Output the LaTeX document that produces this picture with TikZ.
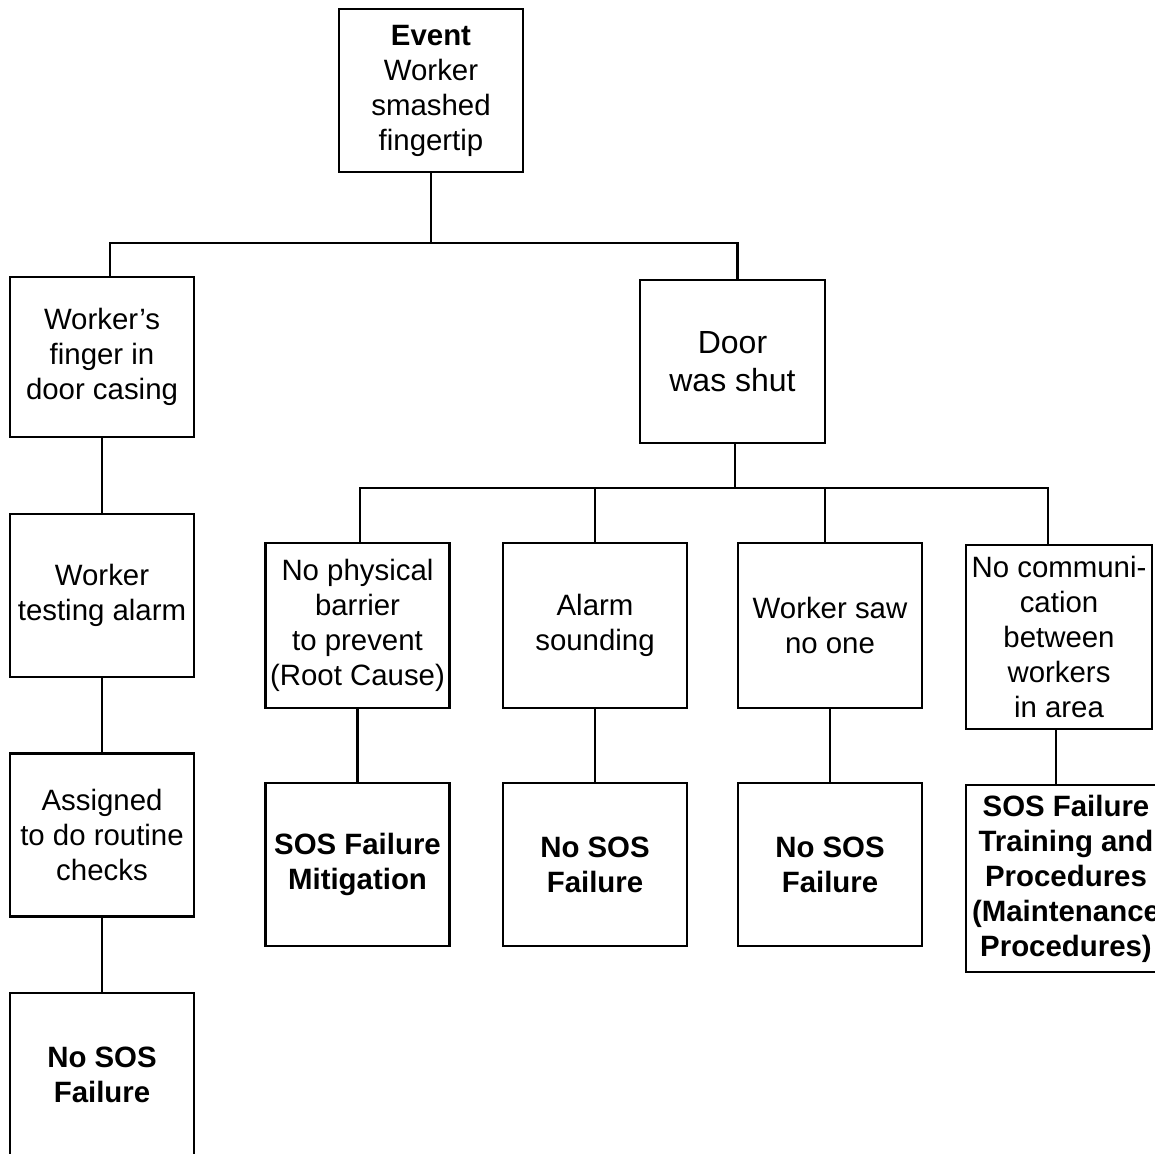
\documentclass[tikz,border=0pt]{standalone}
\usepackage{fontspec}
\setmainfont{Liberation Sans}
\begin{document}
\begin{tikzpicture}[
  x=0.5pt, y=-0.5pt,
  box/.style={rectangle, draw, line width=1.2pt, inner sep=0pt, align=center,
              minimum width=92pt, minimum height=81.5pt,
              font=\fontsize{14.7}{17.5}\selectfont},
  link/.style={line width=1.2pt}
]
  \useasboundingbox (0,0) rectangle (1155,1154);
  \clip (0,0) rectangle (1155,1154);
  % Event
  \node[box] (event) at (431,90.5) {\textbf{Event}\\Worker\\smashed\\fingertip};
  % Left branch
  \node[box, minimum height=80pt] (finger) at (102,357) {Worker’s\\finger in\\door casing};
  \node[box] (testing) at (102,595.5) {Worker\\testing alarm};
  \node[box] (assigned) at (102,835) {Assigned\\to do routine\\checks};
  \node[box] (leftend) at (102,1074.5) {\textbf{No SOS}\\\textbf{Failure}};
  % Right branch
  \node[box, minimum width=92.5pt, font=\fontsize{16}{19}\selectfont] (door) at (732.5,361.5) {Door\\was shut};
  \node[box, minimum height=82.5pt] (barrier) at (357.5,625.5) {No physical\\barrier\\to prevent\\(Root Cause)};
  \node[box, minimum height=82.5pt] (alarm) at (595,625.5) {Alarm\\sounding};
  \node[box, minimum height=82.5pt] (sawnone) at (830,625.5) {Worker saw\\no one};
  \node[box, minimum width=93pt, minimum height=92pt] (nocomm) at (1059,637) {No communi-\\cation\\between\\workers\\in area};
  % Outcomes
  \node[box] (mitig) at (357.5,864.5) {\textbf{SOS Failure}\\\textbf{Mitigation}};
  \node[box] (nososa) at (595,864.5) {\textbf{No SOS}\\\textbf{Failure}};
  \node[box] (nososb) at (830,864.5) {\textbf{No SOS}\\\textbf{Failure}};
  \node[box, minimum width=100pt, minimum height=93.5pt] (training) at (1066,878.5)
    {\textbf{SOS Failure}\\\textbf{Training and}\\\textbf{Procedures}\\\textbf{(Maintenance}\\\textbf{Procedures)}};
  % Top split
  \coordinate (top) at (431,243);
  \draw[link] (event.south) -- (top);
  \draw[link] ([xshift=4pt]finger.north) |- (top) -| ([xshift=2.5pt]door.north);
  % Left chain
  \draw[link] (finger) -- (testing);
  \draw[link] (testing) -- (assigned);
  \draw[link] (assigned) -- (leftend);
  % Door split
  \coordinate (mid) at ([xshift=1.25pt, yshift=-22pt]door.south);
  \draw[link] ([xshift=1.25pt]door.south) -- (mid);
  \draw[link] ([xshift=1.25pt]barrier.north) |- (mid) -| ([xshift=-5.5pt]nocomm.north);
  \draw[link] (alarm.north) -- (alarm.north |- mid);
  \draw[link] ([xshift=-2.5pt]sawnone.north) -- ([xshift=-2.5pt]sawnone.north |- mid);
  % Causes to outcomes
  \draw[link] (barrier) -- (mitig);
  \draw[link] (alarm) -- (nososa);
  \draw[link] (sawnone) -- (nososb);
  \draw[link] ([xshift=-1.5pt]nocomm.south) -- ([xshift=-1.5pt]nocomm.south |- training.north);
\end{tikzpicture}
\end{document}
